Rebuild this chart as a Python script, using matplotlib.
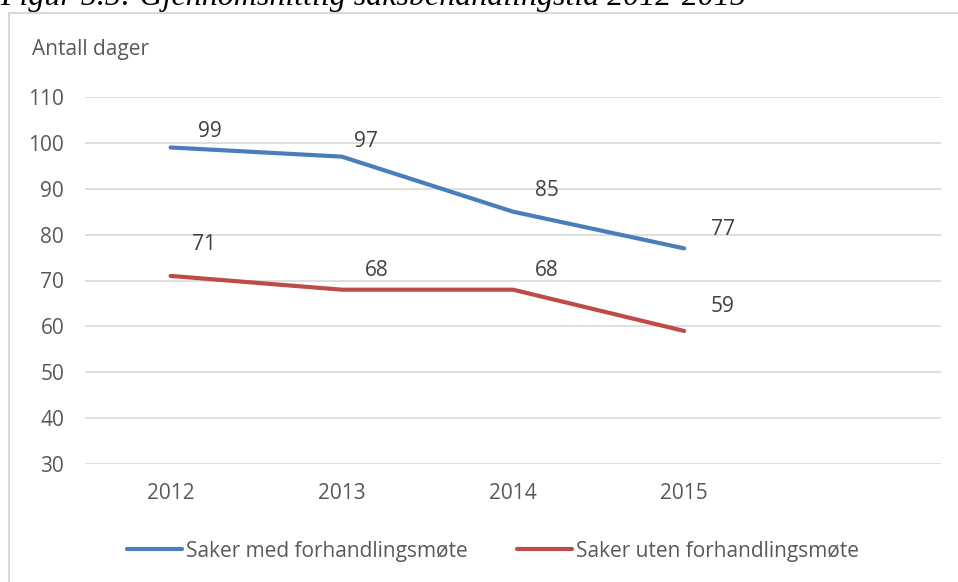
import matplotlib
matplotlib.use("Agg")
import matplotlib.pyplot as plt
from matplotlib.patches import Rectangle

years = ["2012", "2013", "2014", "2015"]
med_forhandling = [99, 97, 85, 77]
uten_forhandling = [71, 68, 68, 59]
series_names = ["Saker med forhandlingsmøte", "Saker uten forhandlingsmøte"]
y_ticks = [30, 40, 50, 60, 70, 80, 90, 100, 110]
title = "Figur 5.5: Gjennomsnittlig saksbehandlingstid 2012-2015"
y_label = "Antall dager"

# label offsets (pixels) - layout only
med_offsets = [(39, 16), (24, 15), (34, 21), (39, 19)]
uten_offsets = [(33, 31), (35, 19), (34, 19), (38, 24)]

plt.rcParams['font.family'] = ['Open Sans', 'DejaVu Sans']
TXT = "#595959"
BLUE = "#4A7EBB"
RED = "#BE4B48"
FS = 15

fig = plt.figure(figsize=(9.58, 5.82), dpi=100)
fig.patch.set_facecolor("white")

# outer chart frame
fig.patches.append(Rectangle((8.5 / 958, -0.1), 1.2, 1 - 12.5 / 582 + 0.1,
                             transform=fig.transFigure, fill=False,
                             edgecolor="#D9D9D9", linewidth=1.5))

fig.text(0.0, 1 - 5 / 582, title, fontsize=23, fontstyle="italic",
         family="Liberation Serif", color="black", va="baseline", ha="left")

ax = fig.add_axes([85 / 958, 1 - 464 / 582, (941 - 85) / 958, (464 - 97) / 582])
x = list(range(len(years)))
ax.plot(x, med_forhandling, color=BLUE, lw=3.0, solid_capstyle="round",
        solid_joinstyle="round", label=series_names[0])
ax.plot(x, uten_forhandling, color=RED, lw=3.0, solid_capstyle="round",
        solid_joinstyle="round", label=series_names[1])

for xi, v, off in zip(x, med_forhandling, med_offsets):
    ax.annotate(str(v), (xi, v), xytext=(off[0], off[1]), textcoords="offset pixels",
                ha="center", va="center", fontsize=FS, color="#404040")
for xi, v, off in zip(x, uten_forhandling, uten_offsets):
    ax.annotate(str(v), (xi, v), xytext=(off[0], off[1]), textcoords="offset pixels",
                ha="center", va="center", fontsize=FS, color="#404040")

ax.set_xlim(-0.5, 4.5)
ax.set_ylim(30, 110)
ax.set_yticks(y_ticks)
ax.set_xticks(x)
ax.set_xticklabels(years)
ax.grid(axis="y", color="#D9D9D9", lw=1.2)
ax.set_axisbelow(True)
for s in ax.spines.values():
    s.set_visible(False)
ax.tick_params(axis="both", length=0, labelsize=FS, labelcolor=TXT)
ax.tick_params(axis="y", pad=15)
ax.tick_params(axis="x", pad=14)

fig.text(32 / 958, 1 - 50 / 582, y_label, fontsize=FS, color=TXT, va="center", ha="left")

fig.legend(loc="center", bbox_to_anchor=(493 / 958, 1 - 551 / 582), ncol=2,
           frameon=False, fontsize=FS, handlelength=2.6, handletextpad=0.19,
           columnspacing=2.4, labelcolor=TXT)

fig.savefig("out.png", dpi=100, facecolor="white")
